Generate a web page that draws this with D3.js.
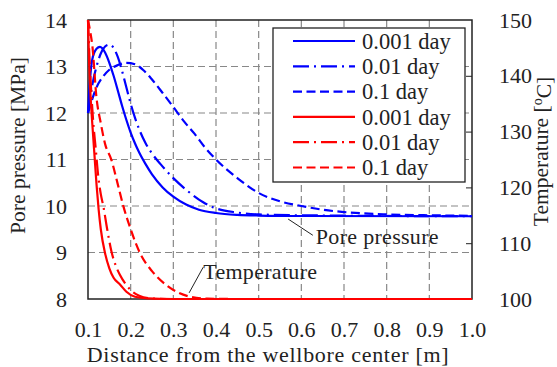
<!DOCTYPE html>
<html lang="en">
<head>
    <title>Pore pressure and temperature</title>
    <meta charset="utf-8">
    <!-- Load d3.js -->
    <script src="https://d3js.org/d3.v7.min.js"></script>
    <style>
        body { margin: 0; background: #fff; }
        text { font-family: "Liberation Serif", "Times New Roman", serif; fill: #222; }
    </style>
</head>
<body>
<div id="visualization"></div>
<script>
    // Distance [m] / pore pressure [MPa], one array per time
    const pDist001 = [0.1, 0.105, 0.11, 0.12, 0.128, 0.14, 0.15, 0.16, 0.17, 0.18, 0.19, 0.2, 0.21, 0.22, 0.235, 0.25, 0.275, 0.3, 0.33, 0.36, 0.4, 0.45, 0.5, 0.6, 1.0];
    const pVal001 = [12.0, 12.75, 13.15, 13.38, 13.42, 13.3, 13.08, 12.8, 12.48, 12.15, 11.85, 11.58, 11.35, 11.15, 10.9, 10.68, 10.4, 10.2, 10.03, 9.92, 9.85, 9.81, 9.795, 9.785, 9.78];
    const pDist01 = [0.1, 0.11, 0.12, 0.13, 0.14, 0.15, 0.16, 0.17, 0.18, 0.19, 0.2, 0.21, 0.22, 0.235, 0.25, 0.27, 0.3, 0.33, 0.37, 0.4, 0.45, 0.5, 0.6, 1.0];
    const pVal01 = [12.0, 12.6, 13.0, 13.28, 13.43, 13.47, 13.4, 13.2, 12.9, 12.55, 12.2, 11.9, 11.65, 11.35, 11.13, 10.9, 10.6, 10.35, 10.08, 9.95, 9.86, 9.82, 9.8, 9.78];
    const pDist1 = [0.1, 0.11, 0.12, 0.135, 0.15, 0.17, 0.19, 0.21, 0.23, 0.25, 0.275, 0.3, 0.325, 0.35, 0.375, 0.4, 0.45, 0.5, 0.55, 0.6, 0.65, 0.7, 0.8, 0.9, 1.0];
    const pVal1 = [12.0, 12.3, 12.55, 12.78, 12.93, 13.03, 13.08, 13.05, 12.92, 12.72, 12.43, 12.13, 11.82, 11.55, 11.25, 11.0, 10.6, 10.28, 10.1, 10.0, 9.92, 9.87, 9.82, 9.8, 9.79];

    // Distance [m] / temperature [oC]
    const tDist001 = [0.1, 0.102, 0.105, 0.11, 0.115, 0.12, 0.125, 0.13, 0.14, 0.15, 0.16, 0.175, 0.19, 0.21, 0.24, 0.3, 1.0];
    const tVal001 = [150, 144, 138, 131.5, 126, 120.5, 116, 112.5, 108.2, 105.5, 103.8, 102.6, 101.3, 100.4, 100.1, 100, 100];
    const tDist01 = [0.1, 0.103, 0.107, 0.112, 0.118, 0.124, 0.13, 0.136, 0.145, 0.155, 0.165, 0.175, 0.187, 0.2, 0.22, 0.25, 0.3, 1.0];
    const tVal01 = [150, 144, 138, 132, 127, 122, 118.8, 116.6, 112.5, 108.5, 106, 104.3, 102.8, 101.6, 100.6, 100.1, 100, 100];
    const tDist1 = [0.1, 0.105, 0.11, 0.12, 0.13, 0.14, 0.155, 0.17, 0.183, 0.2, 0.222, 0.25, 0.28, 0.31, 0.34, 0.38, 0.45, 1.0];
    const tVal1 = [150, 148, 145.5, 136, 131.5, 127.8, 124.9, 120.5, 116.6, 112.5, 108.2, 105, 102.7, 101.2, 100.4, 100.05, 100, 100];

    const legendLabels = ['0.001 day', '0.01 day', '0.1 day', '0.001 day', '0.01 day', '0.1 day'];
    const xTicks = [0.1, 0.2, 0.3, 0.4, 0.5, 0.6, 0.7, 0.8, 0.9, 1.0];
    const pTicks = [8, 9, 10, 11, 12, 13, 14];
    const tTicks = [100, 110, 120, 130, 140, 150];

    const margin = {top: 20, right: 85, bottom: 68, left: 88},
        width = 557 - margin.left - margin.right,
        height = 367 - margin.top - margin.bottom;

    const BLUE = "#0000ff", RED = "#ff0000";
    const DASH = {solid: null, dashdot: "16,5,2,5", dashed: "9,4.5"};

    const svg = d3.select("#visualization")
        .append("svg")
        .attr("width", 557)
        .attr("height", 367)
        .append("g")
        .attr("transform", `translate(${margin.left},${margin.top})`);

    const x = d3.scaleLinear().domain([0.1, 1.0]).range([0, width]);
    const yP = d3.scaleLinear().domain([8, 14]).range([height, 0]);
    const yT = d3.scaleLinear().domain([100, 150]).range([height, 0]);

    drawGrid();
    drawAxes();
    drawCurves();
    drawAnnotations();
    drawLegend();

    /**
     * Dashed grey grid at every major tick.
     */
    function drawGrid() {
        const grid = svg.append("g").attr("stroke", "#888").attr("stroke-dasharray", "7,4").attr("stroke-width", 1.2);
        grid.selectAll(".vg")
            .data(xTicks.slice(1, -1))
            .join("line")
            .attr("x1", d => x(d)).attr("x2", d => x(d))
            .attr("y1", 0).attr("y2", height);
        grid.selectAll(".hg")
            .data(pTicks.slice(1, -1))
            .join("line")
            .attr("x1", 0).attr("x2", width)
            .attr("y1", d => yP(d)).attr("y2", d => yP(d));
    }

    /**
     * Frame, tick labels and axis titles.
     */
    function drawAxes() {
        svg.append("rect")
            .attr("width", width).attr("height", height)
            .attr("fill", "none").attr("stroke", "#222").attr("stroke-width", 1.5);

        const fs = "22px";
        const bottom = svg.append("g")
            .attr("transform", `translate(0,${height})`)
            .call(d3.axisBottom(x).tickValues(xTicks).tickFormat(d3.format(".1f")).tickSize(0).tickPadding(22));
        const left = svg.append("g")
            .call(d3.axisLeft(yP).tickValues(pTicks).tickFormat(d3.format("d")).tickSize(0).tickPadding(21));
        const right = svg.append("g")
            .attr("transform", `translate(${width},0)`)
            .call(d3.axisRight(yT).tickValues(tTicks).tickFormat(d3.format("d")).tickSize(-6).tickPadding(27));
        [bottom, left, right].forEach(a => {
            a.select(".domain").remove();
            a.selectAll("text").style("font-size", fs).attr("fill", "#222");
            a.attr("font-family", null);
        });
        right.selectAll("line").attr("stroke", "#222");
        right.selectAll(".tick").filter(d => d === 100 || d === 150).select("line").remove();

        svg.append("text")
            .attr("x", width / 2 - 12).attr("y", height + 63)
            .attr("text-anchor", "middle")
            .style("font-size", "22px").style("letter-spacing", "0.7px")
            .text("Distance from the wellbore center [m]");

        svg.append("text")
            .attr("transform", `translate(${-63},${height / 2 - 14}) rotate(-90)`)
            .attr("text-anchor", "middle")
            .style("font-size", "21.5px")
            .text("Pore pressure [MPa]");

        const rt = svg.append("text")
            .attr("transform", `translate(${width + 76},${height / 2 - 8}) rotate(-90)`)
            .attr("text-anchor", "middle")
            .style("font-size", "21.5px");
        rt.append("tspan").text("Temperature [");
        rt.append("tspan").attr("dy", "-0.45em").style("font-size", "14px").text("o");
        rt.append("tspan").attr("dy", "0.45em").text("C]");
    }

    /**
     * Pressure curves on the left axis, temperature curves on the right.
     */
    function drawCurves() {
        const series = [
            {d: pDist001, v: pVal001, y: yP, color: BLUE, dash: DASH.solid},
            {d: pDist01, v: pVal01, y: yP, color: BLUE, dash: DASH.dashdot},
            {d: pDist1, v: pVal1, y: yP, color: BLUE, dash: DASH.dashed},
            {d: tDist001, v: tVal001, y: yT, color: RED, dash: DASH.solid},
            {d: tDist01, v: tVal01, y: yT, color: RED, dash: DASH.dashdot},
            {d: tDist1, v: tVal1, y: yT, color: RED, dash: DASH.dashed}
        ];
        series.forEach(s => {
            const pts = s.d.map((d, i) => [d, s.v[i]]);
            svg.append("path")
                .datum(pts)
                .attr("d", d3.line().curve(d3.curveMonotoneX)
                    .x(p => x(p[0]))
                    .y(p => s.y(p[1])))
                .attr("fill", "none")
                .attr("stroke", s.color)
                .attr("stroke-width", 2.2)
                .attr("stroke-dasharray", s.dash);
        });
    }

    /**
     * Leader-line labels for the two families of curves.
     */
    function drawAnnotations() {
        const g = svg.append("g");
        g.append("line")
            .attr("x1", x(0.569)).attr("y1", yP(9.72))
            .attr("x2", x(0.627)).attr("y2", yP(9.37))
            .attr("stroke", "#222").attr("stroke-width", 1);
        g.append("text")
            .attr("x", x(0.634)).attr("y", yP(9.19))
            .style("font-size", "22px").style("letter-spacing", "0.3px")
            .text("Pore pressure");

        g.append("line")
            .attr("x1", x(0.337)).attr("y1", yT(101.1))
            .attr("x2", x(0.37)).attr("y2", yT(105.7))
            .attr("stroke", "#222").attr("stroke-width", 1);
        g.append("text")
            .attr("x", x(0.37)).attr("y", yT(103.6))
            .style("font-size", "22px").style("letter-spacing", "0.3px")
            .text("Temperature");
    }

    /**
     * Boxed legend in the upper right.
     */
    function drawLegend() {
        const colors = [BLUE, BLUE, BLUE, RED, RED, RED];
        const dashes = [DASH.solid, DASH.dashdot, DASH.dashed, DASH.solid, DASH.dashdot, DASH.dashed];
        const lg = svg.append("g").attr("transform", "translate(185,8)");
        lg.append("rect")
            .attr("width", 192).attr("height", 154)
            .attr("fill", "#fff").attr("stroke", "#222").attr("stroke-width", 1.3);
        const rows = lg.selectAll(".row")
            .data(legendLabels)
            .join("g")
            .attr("transform", (d, i) => `translate(0,${13 + i * 25.3})`);
        rows.append("line")
            .attr("x1", 20).attr("x2", 82)
            .attr("stroke", (d, i) => colors[i])
            .attr("stroke-width", 2.2)
            .attr("stroke-dasharray", (d, i) => dashes[i]);
        rows.append("text")
            .attr("x", 89).attr("dy", "0.35em")
            .style("font-size", "22.5px")
            .text(d => d);
    }
</script>
</body>
</html>
